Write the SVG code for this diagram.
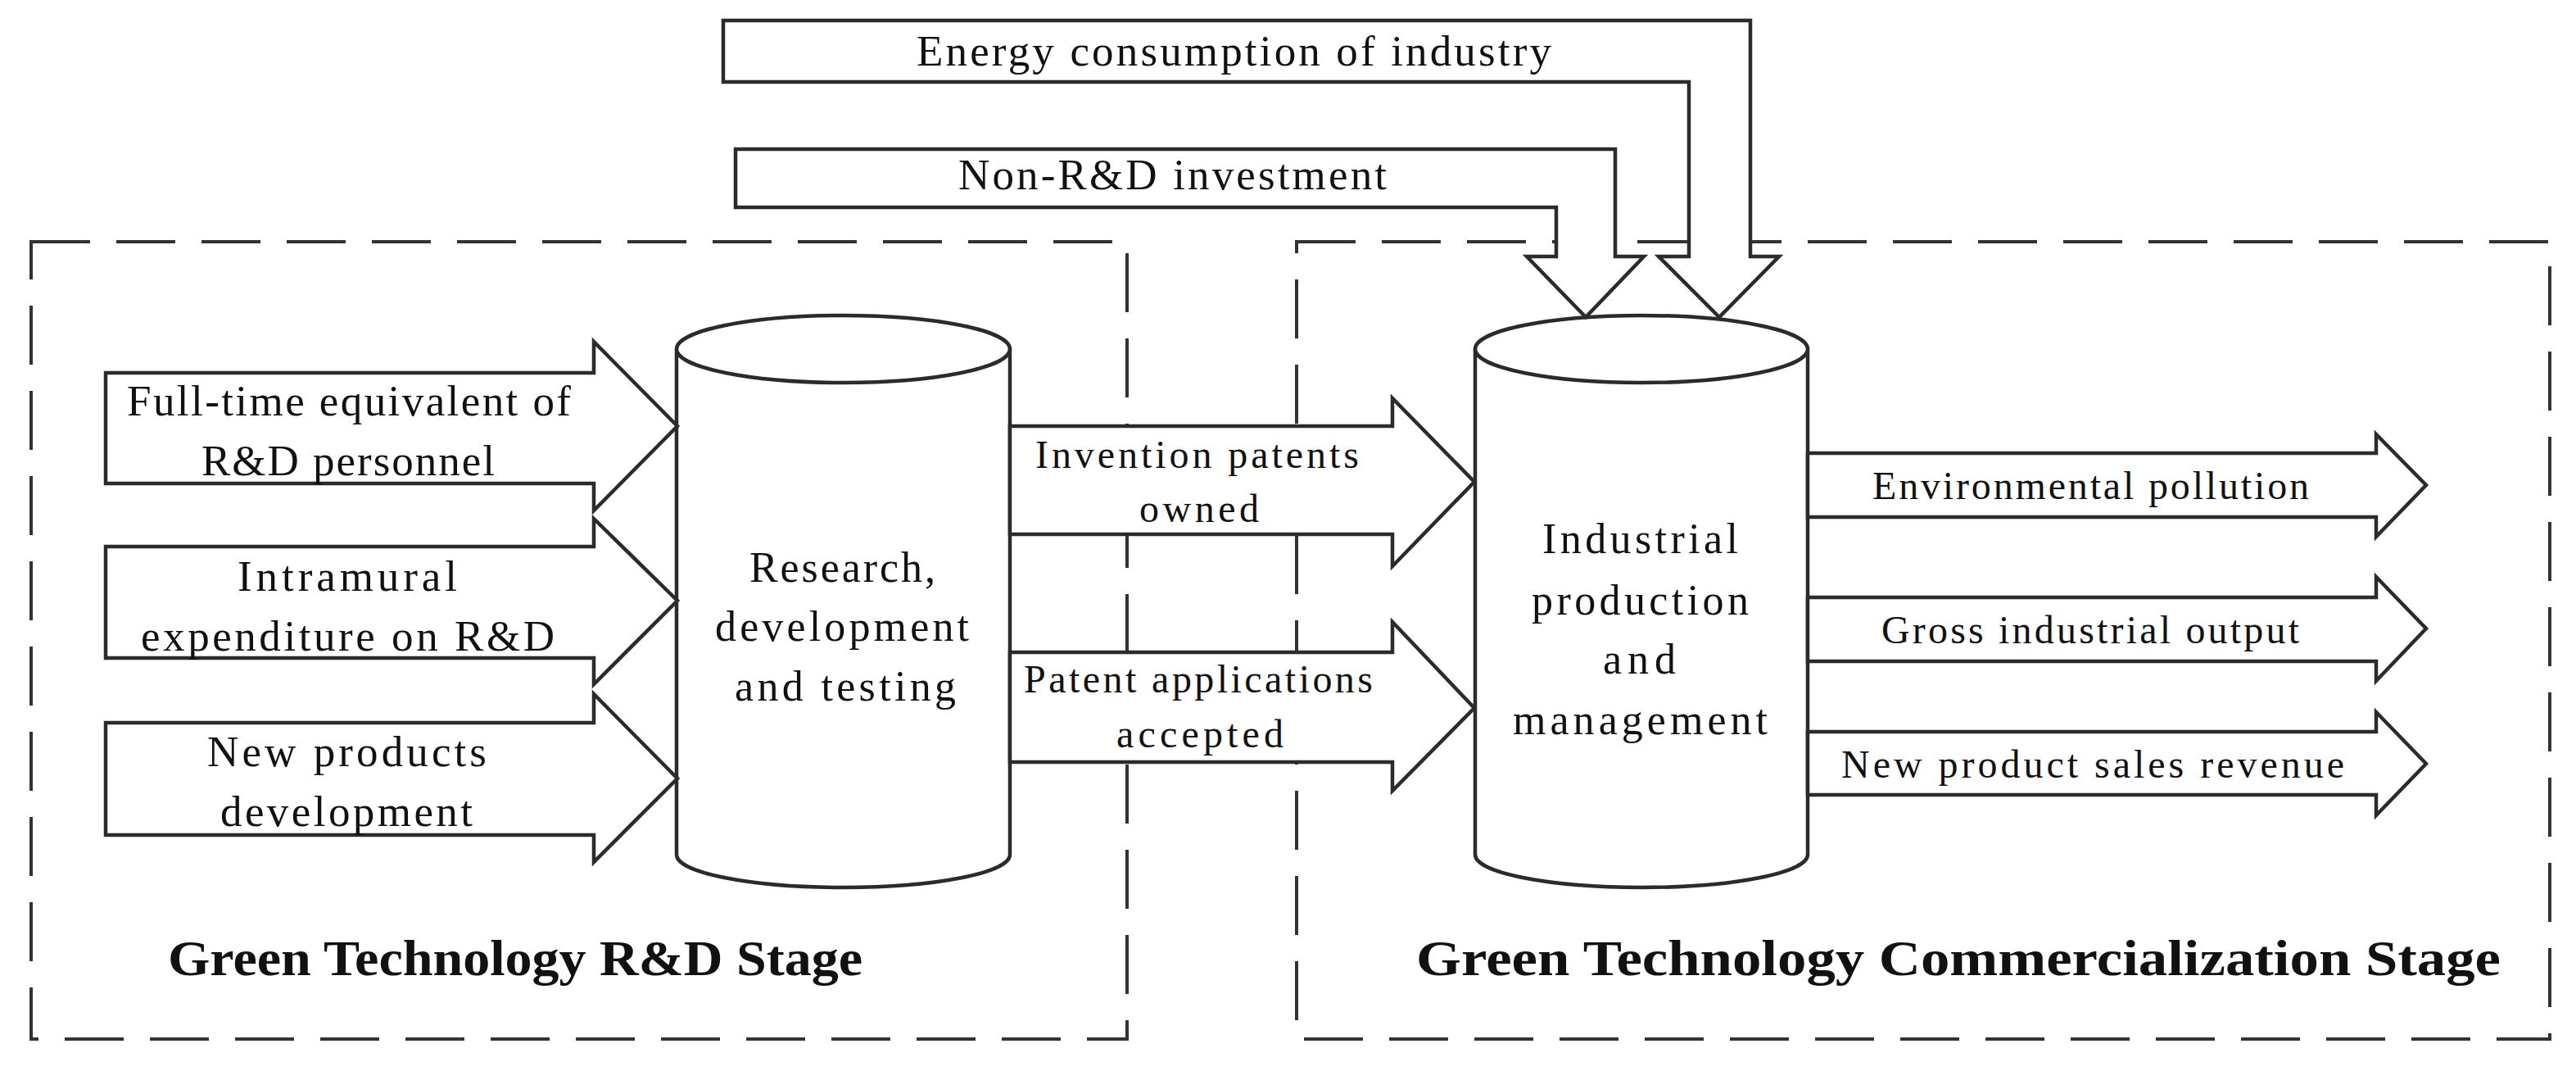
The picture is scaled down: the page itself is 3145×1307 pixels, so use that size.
<svg xmlns="http://www.w3.org/2000/svg" width="3145" height="1307" viewBox="0 0 3145 1307">
<style>
.stage{fill:none;stroke:#333;stroke-width:4;stroke-dasharray:72 32}
.arr{fill:#fff;stroke:#2b2b2b;stroke-width:4.5;stroke-linejoin:miter}
.cyl{fill:#fff;stroke:#2b2b2b;stroke-width:4.5}
text{font-family:"Liberation Serif","Times New Roman",serif;fill:#111}
.lb{font-size:53px}
.cy{font-size:52px}
.sm{font-size:48px}
.st{font-size:62px;font-weight:bold}
</style>
<rect width="3145" height="1307" fill="#fff"/>
<g id="stage-rd">
<rect class="stage" x="38" y="295" width="1338" height="973"/>
<text class="st" x="205" y="1190" textLength="848" lengthAdjust="spacingAndGlyphs">Green Technology R&amp;D Stage</text>
</g>
<g id="stage-comm">
<rect class="stage" x="1583" y="295" width="1530" height="973"/>
<text class="st" x="1729" y="1190" textLength="1324" lengthAdjust="spacingAndGlyphs">Green Technology Commercialization Stage</text>
</g>
<g id="node-research">
<path class="cyl" d="M826,426 L826,1043 A203.5,40 0 0 0 1233,1043 L1233,426"/>
<ellipse class="cyl" cx="1029.5" cy="426" rx="203.5" ry="41"/>
<text class="cy" x="915" y="710" textLength="227" lengthAdjust="spacing">Research,</text>
<text class="cy" x="873" y="782" textLength="310" lengthAdjust="spacing">development</text>
<text class="cy" x="897" y="855" textLength="270" lengthAdjust="spacing">and testing</text>
</g>
<g id="node-industrial">
<path class="cyl" d="M1801,426 L1801,1043 A203,40 0 0 0 2207,1043 L2207,426"/>
<ellipse class="cyl" cx="2004" cy="426" rx="203" ry="41"/>
<text class="cy" x="1883" y="675" textLength="239" lengthAdjust="spacing">Industrial</text>
<text class="cy" x="1870" y="750" textLength="265" lengthAdjust="spacing">production</text>
<text class="cy" x="1957" y="822" textLength="89" lengthAdjust="spacing">and</text>
<text class="cy" x="1847" y="896" textLength="311" lengthAdjust="spacing">management</text>
</g>
<g id="connectors">
<g id="in-fte">
<polygon class="arr" points="129,455 725,455 725,417 827,520 725,623 725,590 129,590"/>
<text class="lb" x="155" y="507" textLength="542" lengthAdjust="spacing">Full-time equivalent of</text>
<text class="lb" x="246" y="580" textLength="358" lengthAdjust="spacing">R&amp;D personnel</text>
</g>
<g id="in-exp">
<polygon class="arr" points="129,667 725,667 725,633 827,733 725,835 725,803 129,803"/>
<text class="lb" x="290" y="721" textLength="268" lengthAdjust="spacing">Intramural</text>
<text class="lb" x="172" y="794" textLength="505" lengthAdjust="spacing">expenditure on  R&amp;D</text>
</g>
<g id="in-newprod">
<polygon class="arr" points="129,882 725,882 725,847 827,950 725,1052 725,1019 129,1019"/>
<text class="lb" x="253" y="935" textLength="341" lengthAdjust="spacing">New products</text>
<text class="lb" x="269" y="1008" textLength="308" lengthAdjust="spacing">development</text>
</g>
<g id="mid-invention">
<polygon class="arr" points="1233,520 1700,520 1700,486 1800,588 1700,691 1700,652 1233,652"/>
<text class="sm" x="1264" y="571" textLength="395" lengthAdjust="spacing">Invention patents</text>
<text class="sm" x="1391" y="637" textLength="146" lengthAdjust="spacing">owned</text>
</g>
<g id="mid-patent">
<polygon class="arr" points="1233,796 1700,796 1700,759 1800,864 1700,965 1700,930 1233,930"/>
<text class="sm" x="1250" y="845" textLength="426" lengthAdjust="spacing">Patent applications</text>
<text class="sm" x="1363" y="912" textLength="204" lengthAdjust="spacing">accepted</text>
</g>
<g id="top-energy">
<polygon class="arr" points="883,25 2137,25 2137,313 2172,313 2099,387 2025,313 2062,313 2062,100 883,100"/>
<text class="lb" x="1119" y="80" textLength="775" lengthAdjust="spacing">Energy consumption of industry</text>
</g>
<g id="top-nonrd">
<polygon class="arr" points="898,182 1972,182 1972,313 2007,313 1936,387 1864,313 1900,313 1900,253 898,253"/>
<text class="lb" x="1170" y="231" textLength="523" lengthAdjust="spacing">Non-R&amp;D investment</text>
</g>
<g id="out-env">
<polygon class="arr" points="2207,553 2901,553 2901,530 2962,592 2901,655 2901,631 2207,631"/>
<text class="sm" x="2286" y="609" textLength="533" lengthAdjust="spacing">Environmental pollution</text>
</g>
<g id="out-gross">
<polygon class="arr" points="2207,729 2901,729 2901,704 2962,767 2901,831 2901,807 2207,807"/>
<text class="sm" x="2297" y="785" textLength="510" lengthAdjust="spacing">Gross industrial output</text>
</g>
<g id="out-sales">
<polygon class="arr" points="2207,893 2901,893 2901,869 2962,932 2901,995 2901,970 2207,970"/>
<text class="sm" x="2248" y="949" textLength="614" lengthAdjust="spacing">New product sales revenue</text>
</g>
</g>
</svg>
